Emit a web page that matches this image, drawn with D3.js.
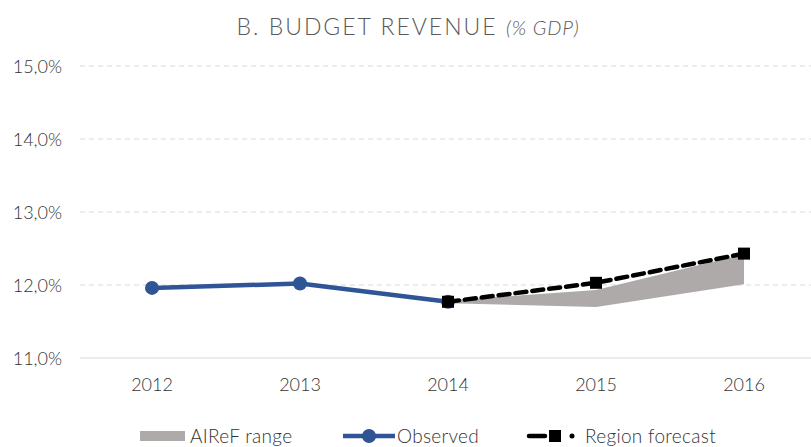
<!DOCTYPE html>
<html><head><meta charset="utf-8">
<script src="https://cdn.jsdelivr.net/npm/d3@7"></script>
<style>body{margin:0;background:#fff}svg{display:block}text{font-family:Lato,"Open Sans",sans-serif}</style>
</head><body><svg id="c" width="811" height="447"></svg>
<script>
const years = ["2012","2013","2014","2015","2016"];
const observed = [11.96, 12.02, 11.77];
const forecastYears = ["2014","2015","2016"];
const forecast = [11.77, 12.03, 12.43];
const rangeLow = [11.75, 11.70, 12.01];
const rangeHigh = [11.79, 11.93, 12.42];
const yTicks = [11, 12, 13, 14, 15];

const svg = d3.select("#c");
const x = d3.scaleBand().domain(years).range([78, 818]);
const cx = d => x(d) + x.bandwidth()/2;
const y = d3.scaleLinear().domain([11, 15]).range([358, 66]);

// title
const t = svg.append("text").attr("x", 408).attr("y", 35).attr("text-anchor","middle")
  .attr("fill","#595959").style("font-size","23px").style("font-weight","300").style("letter-spacing","2px");
t.append("tspan").text("B. BUDGET REVENUE ");
t.append("tspan").style("font-style","italic").style("font-size","20px").style("letter-spacing","0.8px").text("(% GDP)");

// grid
const yAxis = d3.axisLeft(y).tickValues(yTicks).tickSize(0).tickPadding(0)
  .tickFormat(d => d3.format(".1f")(d).replace(".", ",") + "%");
const ga = svg.append("g").attr("transform","translate(62,0)").call(yAxis);
ga.select(".domain").remove();
ga.selectAll("text").attr("fill","#333").style("font-size","18px").style("font-weight","300").attr("dy","0.35em");

svg.append("g").selectAll("line").data(yTicks).join("line")
  .attr("x1",80).attr("x2",811).attr("y1",d=>y(d)).attr("y2",d=>y(d))
  .attr("stroke","#d9d9d9").attr("stroke-width",1)
  .attr("stroke-dasharray",d=> d===11 ? null : "5,4");

const xAxis = d3.axisBottom(x).tickSize(0).tickPadding(0);
const gx = svg.append("g").attr("transform","translate(0,385)").call(xAxis);
gx.select(".domain").remove();
gx.selectAll("text").attr("fill","#333").style("font-size","18px").style("font-weight","300").attr("dy","0.35em");

// range area
const rangeData = forecastYears.map((yr,i)=>({yr, lo:rangeLow[i], hi:rangeHigh[i]}));
svg.append("path").datum(rangeData)
  .attr("d", d3.area().x(d=>cx(d.yr)).y0(d=>y(d.lo)).y1(d=>y(d.hi)))
  .attr("fill","#AEAAAA");

// observed
const obsData = observed.map((v,i)=>({yr:years[i], v}));
svg.append("path").datum(obsData)
  .attr("d", d3.line().x(d=>cx(d.yr)).y(d=>y(d.v)))
  .attr("fill","none").attr("stroke","#2F5597").attr("stroke-width",4.5).attr("stroke-linejoin","round");
svg.append("g").selectAll("circle").data(obsData).join("circle")
  .attr("cx",d=>cx(d.yr)).attr("cy",d=>y(d.v)).attr("r",7).attr("fill","#2F5597");

// forecast
const fData = forecast.map((v,i)=>({yr:forecastYears[i], v}));
svg.append("path").datum(fData)
  .attr("d", d3.line().x(d=>cx(d.yr)).y(d=>y(d.v)))
  .attr("fill","none").attr("stroke","#000").attr("stroke-width",4.5)
  .attr("stroke-dasharray","11,6").attr("stroke-linecap","round");
svg.append("g").selectAll("rect").data(fData).join("rect")
  .attr("x",d=>cx(d.yr)-6).attr("y",d=>y(d.v)-6).attr("width",12).attr("height",12).attr("fill","#000");

// legend
const ly = 436;
const lstyle = s => s.attr("fill","#333").style("font-size","19px").style("font-weight","300").style("letter-spacing","0.3px");
svg.append("rect").attr("x",140).attr("y",ly-5).attr("width",45).attr("height",10).attr("fill","#AEAAAA");
svg.append("text").attr("x",190).attr("y",ly).attr("dy","0.35em").text("AIReF range").call(lstyle);
svg.append("line").attr("x1",343).attr("x2",395).attr("y1",ly).attr("y2",ly).attr("stroke","#2F5597").attr("stroke-width",4.5);
svg.append("circle").attr("cx",369).attr("cy",ly).attr("r",7).attr("fill","#2F5597");
svg.append("text").attr("x",397).attr("y",ly).attr("dy","0.35em").text("Observed").call(lstyle);
svg.append("line").attr("x1",529).attr("x2",545).attr("y1",ly).attr("y2",ly).attr("stroke","#000").attr("stroke-width",4.5).attr("stroke-linecap","round");
svg.append("rect").attr("x",549).attr("y",ly-6).attr("width",12).attr("height",12).attr("fill","#000");
svg.append("circle").attr("cx",572).attr("cy",ly).attr("r",2.5).attr("fill","#000");
svg.append("text").attr("x",585).attr("y",ly).attr("dy","0.35em").text("Region forecast").call(lstyle);
</script></body></html>
